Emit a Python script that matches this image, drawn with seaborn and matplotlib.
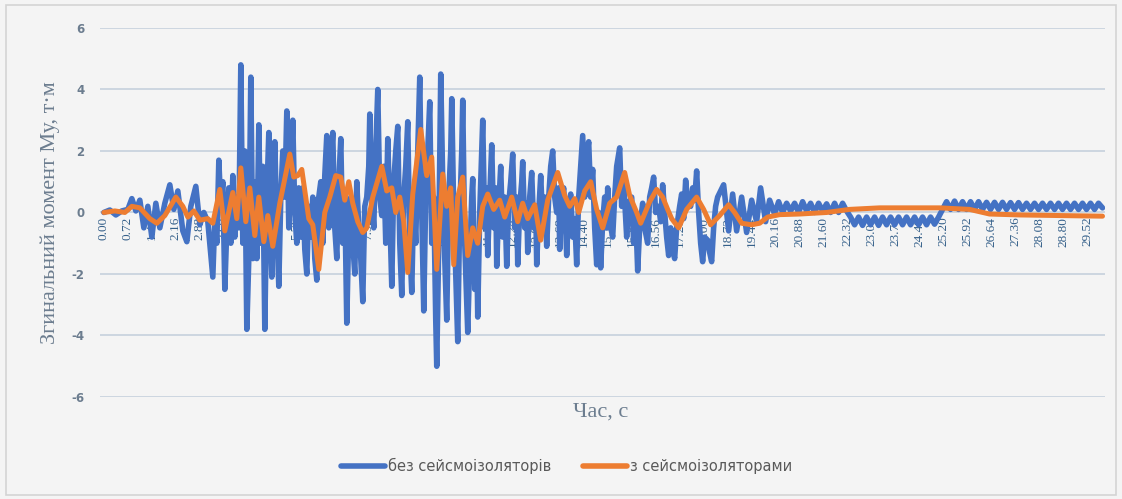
import matplotlib
matplotlib.use("Agg")
import matplotlib.pyplot as plt
from matplotlib.patches import Rectangle
import pandas as pd
import seaborn as sns

# Bending moment My (t*m) vs time (s), structure without seismic isolators
# onset of shaking
time_no_iso_onset = [
    0.00, 0.18, 0.36, 0.54, 0.72, 0.84, 0.96, 1.08, 1.20, 1.32,
    1.44, 1.56, 1.68, 1.83, 1.98, 2.10, 2.22, 2.37, 2.49, 2.61,
    2.76, 2.88, 3.00, 3.12,
]
moment_no_iso_onset = [
    0.0, 0.08, -0.08, 0.05, 0.1, 0.45, 0.05, 0.4, -0.5, 0.2,
    -0.8, 0.3, -0.5, 0.3, 0.9, 0.1, 0.7, -0.6, -0.95, 0.2,
    0.85, -0.4, 0.0, -0.3,
]
# strong motion phase
time_no_iso_strong = [
    3.27, 3.33, 3.39, 3.45, 3.51, 3.57, 3.63, 3.69, 3.75, 3.81,
    3.87, 3.93, 3.99, 4.05, 4.11, 4.17, 4.23, 4.29, 4.35, 4.41,
    4.47, 4.53, 4.59, 4.65, 4.71, 4.77, 4.83, 4.89, 4.95, 5.01,
    5.04, 5.10, 5.13, 5.19, 5.25, 5.31, 5.37, 5.43, 5.49, 5.55,
    5.61, 5.67, 5.73, 5.79, 5.85, 5.91, 5.97, 6.03, 6.09, 6.15,
    6.21, 6.27, 6.33, 6.39, 6.45, 6.51, 6.57, 6.63, 6.69, 6.75,
    6.81, 6.87, 6.93, 6.99, 7.05, 7.11, 7.17, 7.23, 7.29, 7.35,
    7.41, 7.47, 7.53, 7.59, 7.65, 7.71, 7.77, 7.83, 7.89, 7.95,
    7.98, 8.04, 8.10, 8.16, 8.22, 8.28, 8.34, 8.40, 8.46, 8.52,
    8.58, 8.64, 8.70, 8.76, 8.82, 8.88, 8.94, 9.00, 9.06, 9.12,
    9.18, 9.24, 9.30, 9.36, 9.42, 9.48, 9.54, 9.60, 9.66, 9.72,
    9.78, 9.84, 9.90, 9.96, 9.99, 10.05, 10.11, 10.17, 10.23, 10.29,
    10.35, 10.41, 10.44, 10.50, 10.56, 10.62, 10.68, 10.74, 10.77, 10.83,
    10.89, 10.92, 10.98, 11.04, 11.07, 11.13, 11.19, 11.22, 11.28, 11.34,
    11.37, 11.43, 11.49, 11.52, 11.58, 11.64, 11.70, 11.76, 11.79, 11.85,
    11.91, 11.97, 12.03, 12.09, 12.15, 12.21, 12.27, 12.33, 12.39, 12.42,
    12.48, 12.54, 12.57, 12.63, 12.69, 12.72, 12.78, 12.84, 12.90, 12.96,
    12.99, 13.05, 13.11, 13.17, 13.23, 13.29, 13.35, 13.41, 13.47, 13.53,
    13.59, 13.65, 13.68, 13.74, 13.80, 13.86, 13.89, 13.95, 14.01, 14.07,
    14.13, 14.19, 14.25, 14.31, 14.37, 14.43, 14.49, 14.55, 14.61, 14.67,
    14.73, 14.79, 14.85, 14.91, 14.97, 15.03, 15.09, 15.12, 15.18, 15.27,
    15.33, 15.39, 15.48, 15.54, 15.60, 15.69, 15.75, 15.84, 15.90, 15.96,
    16.02, 16.08, 16.17, 16.23, 16.32, 16.38, 16.44, 16.50, 16.56, 16.65,
    16.71, 16.77, 16.83, 16.89, 16.95, 17.01, 17.07, 17.13, 17.19, 17.28,
    17.34, 17.40, 17.46, 17.52, 17.61, 17.67, 17.73, 17.79, 17.85, 17.91,
    17.97, 18.03, 18.12, 18.18, 18.24, 18.30, 18.36, 18.42,
]
moment_no_iso_strong = [
    -2.1, -0.2, -1.0, 1.7, 0.2, 1.0, -2.5, -0.5, 0.8, -1.0,
    1.2, -0.8, 0.5, -0.5, 4.8, -1.0, 2.0, -3.8, -1.5, 4.4,
    -1.5, 1.0, -1.5, 2.85, -1.0, 1.5, -3.8, 0.5, 2.6, -1.0,
    -2.1, 0.5, 2.3, -0.5, -2.4, 0.5, 2.0, 0.5, 3.3, -0.5,
    1.0, 3.0, 0.0, -1.0, 0.8, -0.8, 0.8, -1.2, -2.0, 0.2,
    -0.8, 0.5, -1.5, -2.2, 0.5, 1.0, -1.0, 1.2, 2.5, -0.5,
    1.5, 2.6, -0.5, -1.5, 1.0, 2.4, -1.0, 0.5, -3.6, -0.5,
    0.5, -1.0, -2.0, 1.0, -0.5, -1.5, -2.9, 0.2, 0.5, 1.5,
    3.2, 0.5, -0.5, 2.0, 4.0, 0.5, -0.1, 1.5, -1.0, 2.4,
    0.0, -2.4, 1.0, 2.0, 2.8, -1.0, -2.7, 0.5, 1.5, 2.95,
    -1.0, -2.6, 0.5, -1.0, 2.0, 4.4, 0.0, -3.2, 0.5, 2.0,
    3.6, -1.0, 0.5, -3.5, -5.0, -1.0, 4.5, 1.0, -1.5, -3.5,
    0.5, 2.0, 3.7, 0.0, -2.0, -4.2, 0.0, 2.0, 3.65, -1.0,
    -3.0, -3.9, -1.5, 0.5, 1.1, -2.5, -1.0, -3.4, 0.0, 2.0,
    3.0, -0.5, 0.8, -1.4, 0.5, 2.2, -0.5, 0.8, -1.75, 0.2,
    1.5, -0.8, 0.5, -1.75, 0.3, 1.0, 1.9, -0.5, 0.5, -1.7,
    0.2, 1.0, 1.65, -0.5, 0.3, -1.3, 0.5, 1.3, -0.5, 0.2,
    -1.7, 0.0, 1.2, -0.3, 0.5, -1.1, 0.5, 1.5, 2.0, 0.5,
    0.0, 0.8, -1.2, 0.5, 0.8, -0.5, -1.4, 0.2, 0.6, -0.8,
    -0.2, -1.7, 0.5, 1.5, 2.5, 0.5, 1.8, 2.3, 0.5, 1.4,
    -0.5, -1.7, 0.0, -1.8, -0.3, 0.5, -0.5, 0.8, -0.3, -0.8,
    0.5, 1.5, 2.1, 0.2, 1.0, -0.8, 0.3, 0.5, -1.0, 0.0,
    -1.9, -0.5, 0.3, -0.5, -1.0, 0.5, 0.8, 1.15, 0.0, 0.2,
    -0.3, 0.9, 0.0, -0.8, -1.4, -0.5, -1.2, -1.5, -0.5, 0.2,
    0.6, -0.2, 1.05, 0.3, 0.2, 0.8, 0.4, 1.35, 0.0, -1.0,
    -1.6, -0.8, -0.9, -1.3, -1.6, -0.5, 0.2, 0.5,
]
# free vibration decay
time_no_iso_decay = [
    18.60, 18.75, 18.87, 18.99, 19.14, 19.29, 19.44, 19.59, 19.71, 19.86,
    19.98, 20.13, 20.25, 20.37, 20.49, 20.61, 20.73, 20.85, 20.97, 21.09,
    21.21, 21.33, 21.45, 21.57, 21.69, 21.81, 21.93, 22.05, 22.17, 22.29,
    22.41, 22.53, 22.65, 22.77, 22.89, 23.01, 23.13, 23.25, 23.37, 23.49,
    23.61, 23.73, 23.85, 23.97, 24.09, 24.21, 24.33, 24.45, 24.57, 24.69,
    24.81, 24.93, 25.05, 25.17, 25.29, 25.41, 25.53, 25.65, 25.77, 25.89,
    26.01, 26.13, 26.25, 26.37, 26.49, 26.61, 26.73, 26.85, 26.97, 27.09,
    27.21, 27.33, 27.45, 27.57, 27.69, 27.81, 27.93, 28.05, 28.17, 28.29,
    28.41, 28.53, 28.65, 28.77, 28.89, 29.01, 29.13, 29.25, 29.37, 29.49,
    29.61, 29.73, 29.85, 29.97,
]
moment_no_iso_decay = [
    0.9, -0.6, 0.6, -0.6, 0.5, -0.65, 0.4, -0.3, 0.8, -0.3,
    0.4, -0.05, 0.35, 0.0, 0.3, 0.05, 0.3, 0.0, 0.35, 0.05,
    0.3, 0.0, 0.3, 0.05, 0.28, 0.0, 0.3, 0.0, 0.3, 0.05,
    -0.15, -0.4, -0.15, -0.42, -0.15, -0.4, -0.15, -0.42, -0.15, -0.4,
    -0.15, -0.4, -0.15, -0.4, -0.15, -0.4, -0.15, -0.4, -0.15, -0.4,
    -0.15, -0.38, -0.15, 0.1, 0.35, 0.1, 0.37, 0.1, 0.35, 0.1,
    0.35, 0.1, 0.35, 0.1, 0.33, 0.1, 0.33, 0.1, 0.33, 0.1,
    0.32, 0.1, 0.32, 0.1, 0.3, 0.1, 0.3, 0.1, 0.3, 0.1,
    0.3, 0.1, 0.3, 0.1, 0.3, 0.1, 0.3, 0.1, 0.3, 0.1,
    0.3, 0.1, 0.3, 0.15,
]

# Structure with seismic isolators
time_iso = [
    0.00, 0.33, 0.63, 0.84, 1.08, 1.38, 1.59, 1.83, 2.16, 2.37, 2.52, 2.70, 2.88, 3.12,
    3.27, 3.48, 3.63, 3.87, 3.99, 4.11, 4.26, 4.38, 4.53, 4.65, 4.80, 4.92, 5.07, 5.28,
    5.58, 5.70, 5.82, 5.94, 6.15, 6.27, 6.45, 6.63, 6.78, 6.96, 7.11, 7.23, 7.35, 7.47,
    7.62, 7.77, 7.89, 8.07, 8.34, 8.49, 8.64, 8.76, 8.88, 9.00, 9.12, 9.27, 9.51, 9.69,
    9.84, 9.99, 10.17, 10.29, 10.41, 10.50, 10.62, 10.77, 10.92, 11.07, 11.22, 11.37,
    11.52, 11.70, 11.88, 12.03, 12.24, 12.42, 12.57, 12.72, 12.93, 13.11, 13.32, 13.62,
    13.83, 13.98, 14.13, 14.25, 14.43, 14.61, 14.79, 14.97, 15.18, 15.39, 15.63, 15.78,
    15.99, 16.11, 16.38, 16.59, 16.77, 16.92, 17.04, 17.25, 17.49, 17.79, 18.00, 18.21,
    18.48, 18.75, 18.93, 19.14, 19.44, 19.68, 19.92, 20.28, 20.88, 21.69, 22.38, 23.28,
    25.08, 25.98, 26.58, 27.48, 28.68, 29.97,
]
moment_iso = [
    0.0, 0.05, 0.0, 0.2, 0.15, -0.2, -0.35, -0.1, 0.5, 0.2, -0.15, 0.05, -0.25, -0.2,
    -0.35, 0.75, -0.6, 0.65, -0.2, 1.45, -0.3, 0.8, -0.75, 0.5, -0.95, -0.1, -1.1, 0.3,
    1.9, 1.15, 1.2, 1.4, -0.2, -0.4, -1.85, 0.0, 0.5, 1.2, 1.15, 0.4, 1.0, 0.3,
    -0.3, -0.65, -0.5, 0.5, 1.5, 0.7, 0.8, 0.0, 0.5, -0.3, -1.95, 0.6, 2.7, 1.2,
    1.8, -1.85, 1.25, 0.2, 0.8, -1.7, 0.5, 1.15, -1.4, -0.5, -1.0, 0.2,
    0.6, 0.1, 0.4, -0.15, 0.5, -0.3, 0.3, -0.2, 0.25, -0.9, 0.4, 1.3,
    0.55, 0.2, 0.45, 0.0, 0.7, 1.0, 0.1, -0.5, 0.3, 0.5, 1.3, 0.55,
    0.0, -0.35, 0.35, 0.75, 0.5, 0.1, -0.2, -0.5, 0.1, 0.5, 0.1, -0.4,
    -0.1, 0.25, 0.0, -0.35, -0.4, -0.35, -0.15, -0.07, -0.05, 0.0, 0.1, 0.15,
    0.15, 0.1, -0.05, -0.08, -0.1, -0.12,
]

series_names = ["без сейсмоізоляторів", "з сейсмоізоляторами"]
tick_step = 0.72
tick_count = 42
y_ticks = [-6, -4, -2, 0, 2, 4, 6]

BLUE = "#4472C4"
ORANGE = "#ED7D31"
BG = "#f4f4f4"
GRID = "#c9d3de"
LABEL = "#6c7d8f"

sns.set_theme(style="white")
plt.rcParams["font.family"] = ["DejaVu Sans"]

fig = plt.figure(figsize=(11.22, 4.99), dpi=100, facecolor=BG)
ax = fig.add_axes([0.089, 0.2044, 0.896, 0.7396])
ax.set_facecolor(BG)

df_no = pd.DataFrame({
    "t": time_no_iso_onset + time_no_iso_strong + time_no_iso_decay,
    "m": moment_no_iso_onset + moment_no_iso_strong + moment_no_iso_decay,
})
df_iso = pd.DataFrame({"t": time_iso, "m": moment_iso})

sns.lineplot(data=df_no, x="t", y="m", ax=ax, color=BLUE, lw=4.0,
             estimator=None, sort=False, label=series_names[0],
             solid_joinstyle="round", zorder=3)
sns.lineplot(data=df_iso, x="t", y="m", ax=ax, color=ORANGE, lw=3.6,
             estimator=None, sort=False, label=series_names[1],
             solid_joinstyle="round", zorder=4)

# category labels sit next to the zero line, as on a spreadsheet chart
ax.spines["bottom"].set_position(("data", 0))
for s in ax.spines.values():
    s.set_visible(False)

ax.set_xlim(-0.12, 30.05)
ax.set_ylim(-6, 6)
ax.set_yticks(y_ticks)
ax.set_yticklabels([str(v) for v in y_ticks], color=LABEL, fontsize=8.5,
                   fontweight="bold", family="DejaVu Sans")
ax.yaxis.grid(True, color=GRID, lw=1.3)
ax.xaxis.grid(False)
ax.set_axisbelow(True)

xt = [round(i * tick_step, 2) for i in range(tick_count)]
ax.set_xticks(xt)
ax.set_xticklabels([f"{v:.2f}" for v in xt], rotation=90, ha="center", va="top",
                   fontsize=9.5, color="#35608a", family="Liberation Serif")
ax.tick_params(axis="x", length=0, pad=3)
ax.tick_params(axis="y", length=0, pad=11)

ax.set_xlabel("")
ax.set_ylabel("Згинальний момент Му, т·м", fontsize=16, color=LABEL,
              family="Liberation Serif", labelpad=8)
fig.text(0.535, 0.175, "Час, с", fontsize=16, color=LABEL,
         family="Liberation Serif", ha="center", va="center")

ax.get_legend().remove()
handles, labels = ax.get_legend_handles_labels()
leg = fig.legend(handles, labels, loc="center", bbox_to_anchor=(0.505, 0.066),
                 ncol=2, frameon=False, fontsize=10.5, handlelength=3.0,
                 handletextpad=0.2, columnspacing=2.2)
for txt in leg.get_texts():
    txt.set_color("#595959")
for ln in leg.get_lines():
    ln.set_linewidth(4)

fig.patches.append(Rectangle((0.005, 0.008), 0.99, 0.982, transform=fig.transFigure,
                             fill=False, edgecolor="#d4d4d4", lw=1.2))

fig.savefig("out.png", dpi=100, facecolor=BG)
